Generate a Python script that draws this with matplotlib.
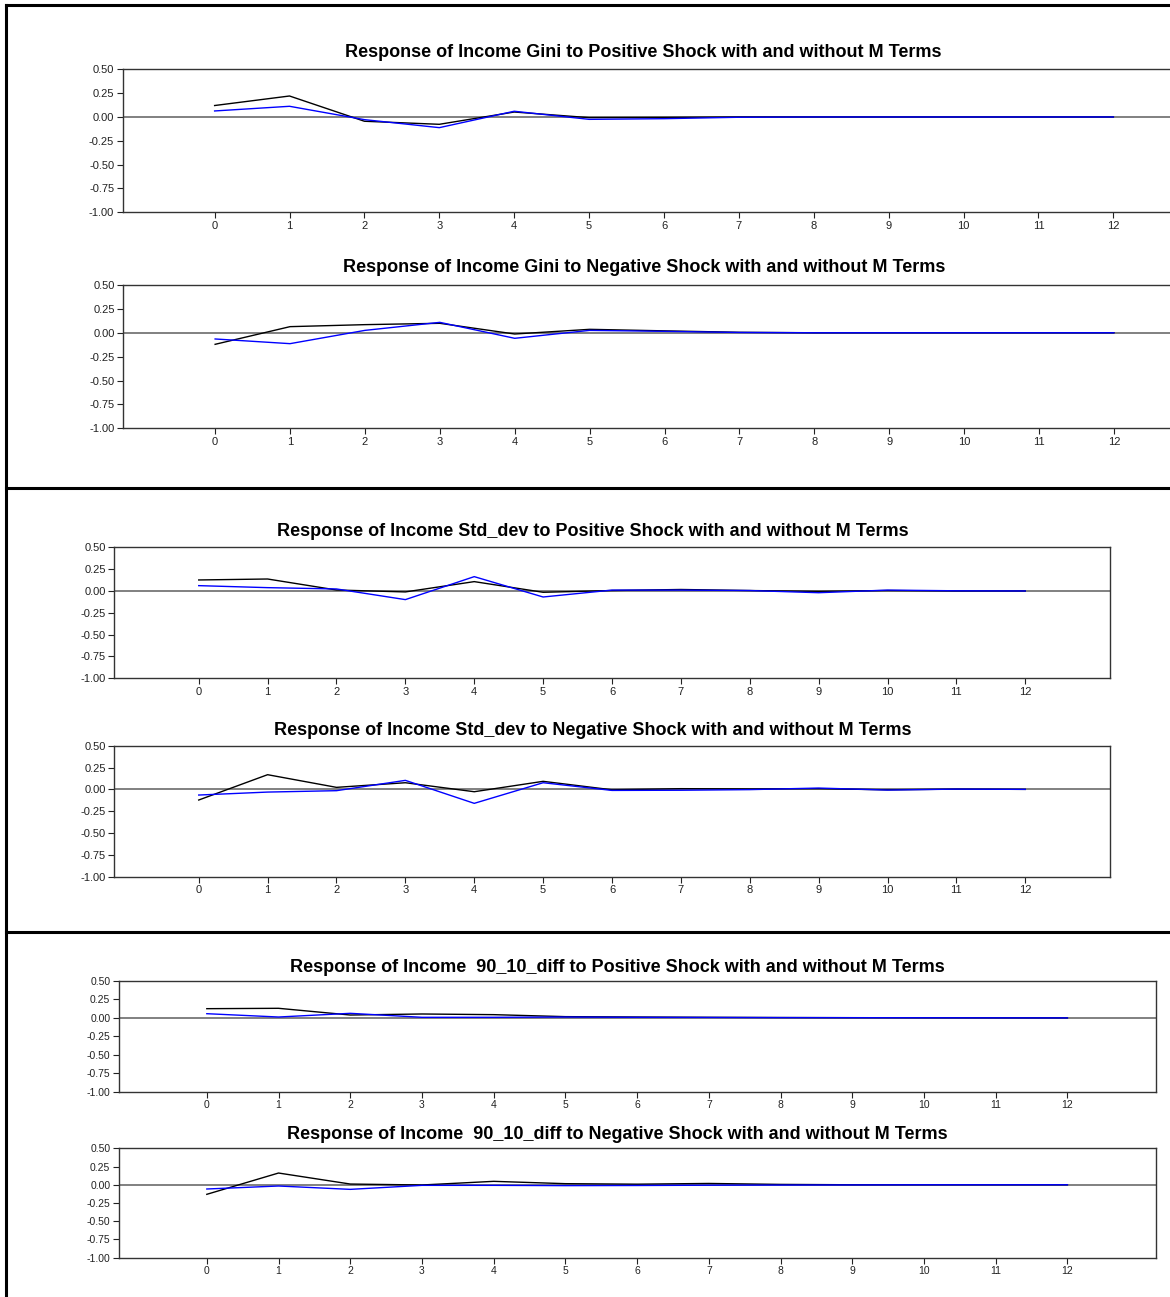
import numpy as np
import matplotlib
matplotlib.use("Agg")
from matplotlib import pyplot as plt
from matplotlib.lines import Line2D

plt.rcParams['font.family'] = ['Liberation Sans', 'DejaVu Sans']

horizon = list(range(13))
yticks  = [0.50, 0.25, 0.00, -0.25, -0.50, -0.75, -1.00]

titles = [
  "Response of Income Gini to Positive Shock with and without M Terms",
  "Response of Income Gini to Negative Shock with and without M Terms",
  "Response of Income Std_dev to Positive Shock with and without M Terms",
  "Response of Income Std_dev to Negative Shock with and without M Terms",
  "Response of Income  90_10_diff to Positive Shock with and without M Terms",
  "Response of Income  90_10_diff to Negative Shock with and without M Terms",
]

# black = with M terms, blue = without
gini_pos_black = [0.12, 0.22, -0.045, -0.077, 0.052, -0.007, -0.005, 0.0, 0.0, 0.0, 0.0, 0.0, 0.0]
gini_pos_blue  = [0.063, 0.112, -0.028, -0.112, 0.060, -0.025, -0.018, -0.003, 0.0, 0.0, 0.0, 0.0, 0.0]
gini_neg_black = [-0.121, 0.064, 0.085, 0.099, -0.013, 0.036, 0.020, 0.005, 0.0, 0.0, 0.0, 0.0, 0.0]
gini_neg_blue  = [-0.065, -0.114, 0.025, 0.109, -0.058, 0.025, 0.015, 0.003, 0.0, 0.0, 0.0, 0.0, 0.0]

std_pos_black = [0.126, 0.137, 0.011, -0.011, 0.107, -0.015, 0.005, 0.017, 0.005, -0.005, 0.005, 0.0, 0.0]
std_pos_blue  = [0.061, 0.038, 0.023, -0.099, 0.164, -0.069, 0.010, 0.010, 0.005, -0.020, 0.010, 0.002, 0.0]
std_neg_black = [-0.122, 0.168, 0.023, 0.076, -0.027, 0.092, -0.005, 0.008, 0.005, 0.008, -0.005, 0.003, 0.0]
std_neg_blue  = [-0.065, -0.031, -0.015, 0.103, -0.160, 0.076, -0.012, -0.010, -0.003, 0.015, -0.008, 0.003, 0.0]

diff_pos_black = [0.125, 0.130, 0.039, 0.053, 0.044, 0.017, 0.012, 0.008, 0.005, 0.003, 0.002, 0.001, 0.0]
diff_pos_blue  = [0.057, 0.012, 0.062, 0.008, 0.008, 0.012, 0.008, 0.006, 0.004, 0.003, 0.002, 0.001, 0.0]
diff_neg_black = [-0.131, 0.161, 0.010, -0.003, 0.047, 0.015, 0.008, 0.018, 0.005, 0.0, 0.0, 0.0, 0.0]
diff_neg_blue  = [-0.058, -0.017, -0.063, -0.008, -0.008, -0.012, -0.010, -0.006, -0.004, -0.002, 0.0, 0.0, 0.0]

series = [
  (gini_pos_black, gini_pos_blue),
  (gini_neg_black, gini_neg_blue),
  (std_pos_black, std_pos_blue),
  (std_neg_black, std_neg_blue),
  (diff_pos_black, diff_pos_blue),
  (diff_neg_black, diff_neg_blue),
]

W, H = 1170, 1297
fig = plt.figure(figsize=(W/100, H/100), dpi=100)

# panel boxes in pixels: left, top, width, bottom
boxes = [
  (122.5, 69.3, 1083, 212.3),
  (123.0, 285.0, 1083, 428.3),
  (114.0, 547.3, 996, 678.3),
  (114.0, 745.7, 996, 876.7),
  (118.6, 981.0, 1037, 1091.7),
  (118.6, 1148.3, 1037, 1257.7),
]
pads   = [8.5, 9.0, 7.8, 7.8, 6.5, 6.5]
tsize  = [8.0, 8.0, 8.0, 8.0, 7.5, 7.5]

for i in range(6):
  l, t, w, b = boxes[i]
  ax = fig.add_axes([l/W, 1-b/H, w/W, (b-t)/H])
  black, blue = series[i]
  ax.axhline(0, color='#808080', lw=1.4, zorder=1)
  ax.plot(horizon, black, color='black', lw=1.0, zorder=3)
  ax.plot(horizon, blue, color='#0000ff', lw=1.0, zorder=4)
  ax.set_xlim(-1.23, 13.23)
  ax.set_ylim(-1.0, 0.5)
  ax.set_xticks(horizon)
  ax.set_yticks(yticks)
  ax.set_yticklabels(["%.2f" % v for v in yticks])
  ax.tick_params(direction='out', length=4, width=0.8, labelsize=tsize[i], pad=2, colors='#222222')
  for s in ax.spines.values():
    s.set_linewidth(1.0)
    s.set_color('#333333')
  ax.set_title(titles[i], fontsize=13, fontweight='bold', x=0.481, pad=pads[i])

# outer frame and section dividers
frame = dict(color='black', lw=2.2, transform=fig.transFigure)
fig.add_artist(Line2D([6/W, 6/W], [0, 1-5/H], **frame))
fig.add_artist(Line2D([6/W, 1], [1-5/H, 1-5/H], **frame))
fig.add_artist(Line2D([6/W, 1], [1-488/H, 1-488/H], **frame))
fig.add_artist(Line2D([6/W, 1], [1-932/H, 1-932/H], **frame))

fig.savefig("out.png", dpi=100)
